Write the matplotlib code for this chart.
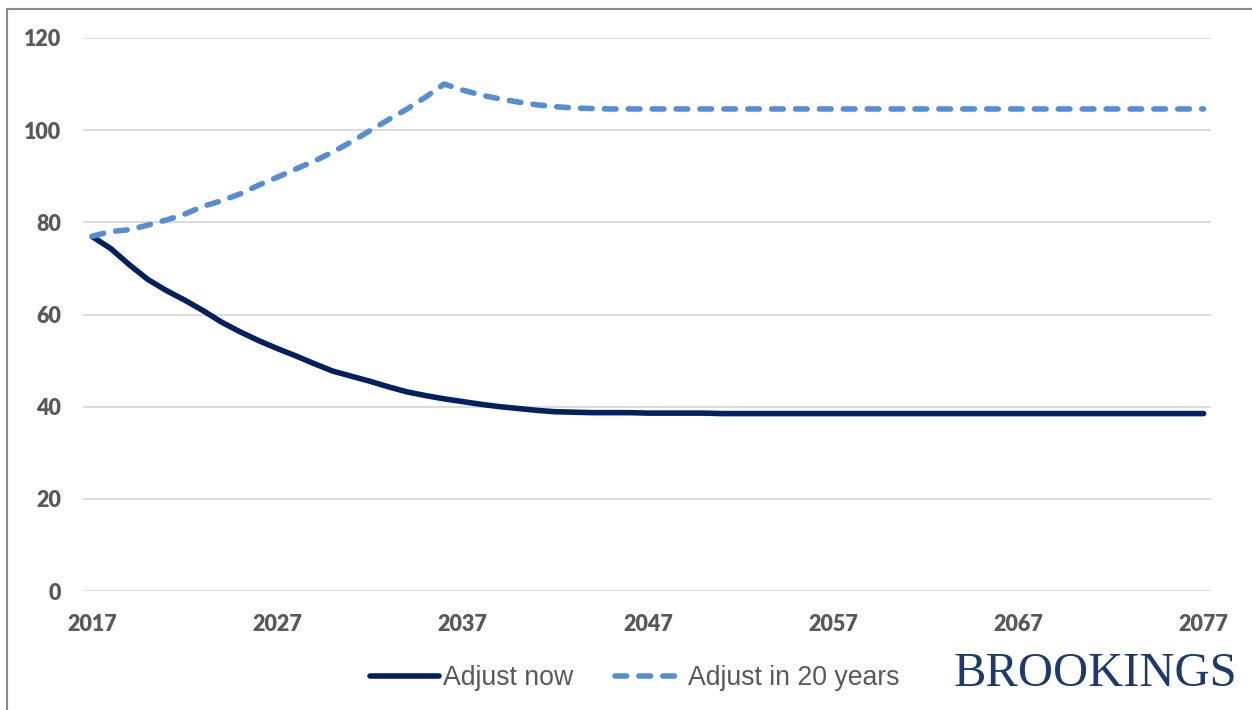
import matplotlib
matplotlib.use("Agg")
import matplotlib.pyplot as plt
from matplotlib.patches import Rectangle

# Years from 2017 to 2077
years = list(range(2017, 2078))

# Debt path if policy adjusts now
adjust_now_head = [76.9, 74.3, 70.8, 67.6, 65.2, 63.1, 60.8, 58.3, 56.2, 54.3,
                   52.6, 51.0, 49.3, 47.7, 46.6, 45.5, 44.3, 43.2, 42.4, 41.7,
                   41.1, 40.5, 40.0, 39.6, 39.2, 38.9, 38.8, 38.7, 38.7, 38.7,
                   38.6, 38.6, 38.6, 38.6]
adjust_now = adjust_now_head + [38.5] * (len(years) - len(adjust_now_head))

# Debt path if policy adjusts in 20 years
adjust_later_head = [77.0, 78.0, 78.4, 79.4, 80.5, 81.8, 83.5, 84.7, 86.2, 88.1,
                     89.8, 91.6, 93.3, 95.3, 97.5, 99.9, 102.3, 104.6, 107.2, 110.0,
                     108.7, 107.6, 106.8, 106.1, 105.5, 105.1, 104.8, 104.7]
adjust_later = adjust_later_head + [104.6] * (len(years) - len(adjust_later_head))

x_ticks = [2017, 2027, 2037, 2047, 2057, 2067, 2077]
y_ticks = [0, 20, 40, 60, 80, 100, 120]
series_labels = ["Adjust now", "Adjust in 20 years"]

W, H = 1252, 710
fig = plt.figure(figsize=(W / 100, H / 100), dpi=100)
fig.patch.set_facecolor("white")

ax = fig.add_axes([83 / W, 1 - 591 / H, (1211 - 83) / W, (591 - 38) / H])
ax.set_xlim(2016.5, 2077.4)
ax.set_ylim(0, 120)

for s in ax.spines.values():
    s.set_visible(False)

ax.set_yticks(y_ticks)
ax.set_xticks(x_ticks)
ax.yaxis.grid(True, color="#D9D9D9", linewidth=1.3)
ax.set_axisbelow(True)
ax.tick_params(length=0)
ax.tick_params(axis="y", pad=16)
ax.tick_params(axis="x", pad=16.5)
for lab in ax.get_xticklabels() + ax.get_yticklabels():
    lab.set_fontfamily("Lato")
    lab.set_fontweight("heavy")
    lab.set_fontsize(15.5)
    lab.set_color("#595959")

ax.plot(years, adjust_now, color="#002060", linewidth=4.0,
        solid_capstyle="round", solid_joinstyle="round",
        label=series_labels[0], clip_on=False)
ax.plot(years, adjust_later, color="#558ED5", linewidth=4.0,
        linestyle=(0, (2.1, 2.2)), dash_capstyle="round", dash_joinstyle="round",
        label=series_labels[1], clip_on=False)

leg = ax.legend(loc="center", bbox_to_anchor=(635 / W, 1 - 678 / H),
                bbox_transform=fig.transFigure, ncol=2, frameon=False,
                prop={"family": "Liberation Sans", "size": 19.2},
                handlelength=2.6, handletextpad=0.15, columnspacing=1.55)
for t in leg.get_texts():
    t.set_color("#595959")

fig.text(1237 / W, 1 - 686 / H, "BROOKINGS", ha="right", va="baseline",
         fontfamily="Liberation Serif", fontsize=35, color="#1C3A6B")

# Outer chart frame (top and left edges)
fig.patches.append(Rectangle((7 / W, -0.2), 2.0, (710 - 9) / H + 0.2,
                             transform=fig.transFigure, fill=False,
                             edgecolor="#8C8C8C", linewidth=1.5))

fig.savefig("out.png", dpi=100, facecolor="white")
